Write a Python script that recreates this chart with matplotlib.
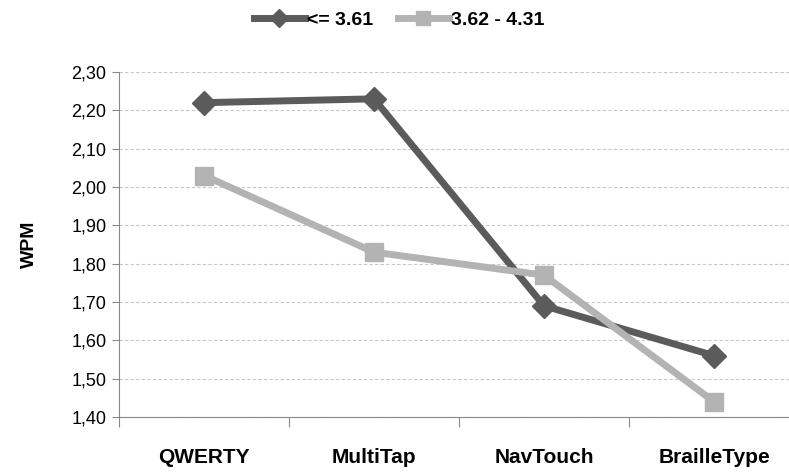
import matplotlib
matplotlib.use("Agg")
import matplotlib.pyplot as plt
from matplotlib.ticker import FixedLocator, FuncFormatter

plt.rcParams["font.family"] = ["Liberation Sans Narrow", "Liberation Sans", "DejaVu Sans"]

categories = ["QWERTY", "MultiTap", "NavTouch", "BrailleType"]
series_names = ["<= 3.61", "3.62 - 4.31"]
low_wpm = [2.22, 2.23, 1.69, 1.56]
high_wpm = [2.03, 1.83, 1.77, 1.44]
y_ticks = [1.40, 1.50, 1.60, 1.70, 1.80, 1.90, 2.00, 2.10, 2.20, 2.30]

DARK = "#5b5b5b"
LIGHT = "#b3b3b3"

fig = plt.figure(figsize=(7.89, 4.72), dpi=100)
ax = fig.add_axes([119 / 789, 55 / 472, 680 / 789, 345 / 472])

x = list(range(len(categories)))
ax.plot(x, low_wpm, color=DARK, lw=5, marker="D", ms=12, label=series_names[0], zorder=3)
ax.plot(x, high_wpm, color=LIGHT, lw=5, marker="s", ms=13, label=series_names[1], zorder=3)

ax.set_xlim(-0.5, len(categories) - 0.5)
ax.set_ylim(y_ticks[0], y_ticks[-1])
ax.yaxis.set_major_locator(FixedLocator(y_ticks))
ax.yaxis.set_major_formatter(FuncFormatter(lambda v, p: f"{v:.2f}".replace(".", ",")))
ax.tick_params(axis="y", length=5, color="#888888", labelsize=13, pad=4)

ax.set_xticks([i - 0.5 for i in range(len(categories) + 1)])
ax.set_xticklabels([])
ax.set_xticks(x, minor=True)
ax.set_xticklabels(categories, minor=True, fontsize=15, fontweight="bold")
ax.tick_params(axis="x", which="major", length=7, color="#888888", direction="out")
ax.tick_params(axis="x", which="minor", length=0, pad=22)

ax.grid(axis="y", linestyle=(0, (3, 2)), color="#c8c8c8", lw=0.8)
ax.set_axisbelow(True)
for side in ("top", "right"):
    ax.spines[side].set_visible(False)
for side in ("left", "bottom"):
    ax.spines[side].set_color("#888888")

ax.set_ylabel("WPM", fontsize=14, fontweight="bold", labelpad=24)

fig.legend(loc="center", bbox_to_anchor=(399 / 789, 1 - 20 / 472), ncol=2, frameon=False,
           prop={"weight": "bold", "size": 14}, handlelength=2.6, columnspacing=1.3,
           handletextpad=0.1, markerscale=0.75)

fig.savefig("out.png", dpi=100)
